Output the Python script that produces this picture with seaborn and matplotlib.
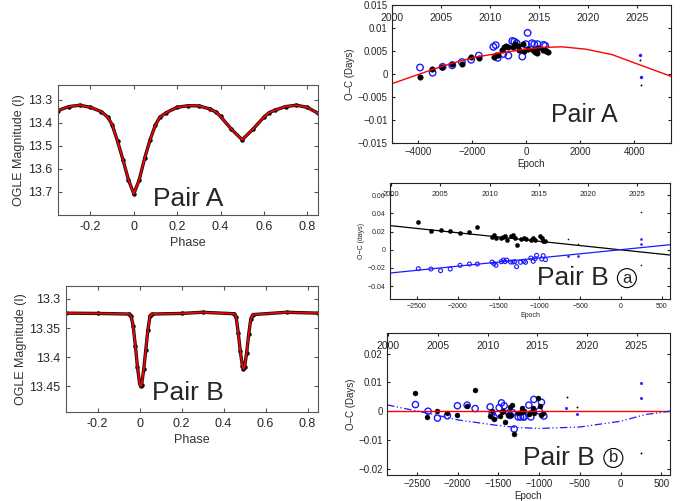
import matplotlib
matplotlib.use("Agg")
import matplotlib.pyplot as plt
import seaborn as sns
import numpy as np

sns.set_style("ticks")
plt.rcParams['font.family'] = ['Liberation Sans', 'DejaVu Sans']

# ---- light curves (phase, OGLE I mag) ----
phA = [-0.35, -0.30, -0.25, -0.20, -0.15, -0.12, -0.10, -0.075, -0.05, -0.025, 0.0,
       0.025, 0.05, 0.075, 0.10, 0.12, 0.15, 0.20, 0.25, 0.30, 0.35, 0.38, 0.40,
       0.45, 0.50, 0.55, 0.60, 0.625, 0.65, 0.70, 0.75, 0.80, 0.85]
magA = [13.346, 13.329, 13.323, 13.332, 13.351, 13.375, 13.408, 13.48, 13.56, 13.647, 13.708,
        13.647, 13.553, 13.473, 13.408, 13.375, 13.355, 13.332, 13.325, 13.326, 13.339, 13.353, 13.372,
        13.427, 13.473, 13.427, 13.375, 13.355, 13.345, 13.329, 13.323, 13.332, 13.358]

phB = [-0.35, -0.2, -0.05, -0.04, -0.03, -0.02, -0.01, 0.0, 0.005, 0.01, 0.02, 0.03, 0.04,
       0.05, 0.06, 0.2, 0.3, 0.45, 0.46, 0.47, 0.48, 0.49, 0.495, 0.5, 0.51, 0.52, 0.53,
       0.54, 0.7, 0.85]
magB = [13.3245, 13.325, 13.326, 13.33, 13.347, 13.38, 13.416, 13.444, 13.45, 13.447, 13.421, 13.387, 13.353,
        13.329, 13.326, 13.325, 13.323, 13.3255, 13.331, 13.358, 13.39, 13.415, 13.42, 13.417, 13.393, 13.361, 13.334,
        13.327, 13.323, 13.3245]

# ---- Pair A O-C ----
a_blk_ep = [-3926, -3460, -3092, -2724, -2368, -2025, -1742, -1190, -1104, -1043, -871, -798, -736,
            -675, -491, -405, -307, -270, -123, -61, 61, 245, 331, 393, 454, 613, 736, 822]
a_blk_oc = [-0.00063, 0.00106, 0.00148, 0.00218, 0.00225, 0.00366, 0.00345, 0.00366, 0.00415, 0.00415,
            0.00528, 0.00577, 0.006, 0.00577, 0.00577, 0.0066, 0.0061, 0.00528, 0.00648, 0.00507, 0.00542,
            0.00521, 0.00486, 0.00458, 0.0057, 0.00528, 0.00507, 0.00486]
a_blu_ep = [-3914, -3448, -3080, -2724, -2368, -2025, -1742, -1202, -1117, -1043, -834, -650, -503,
            -429, -344, -135, 0, 61, 221, 307, 429, 650, 712]
a_blu_oc = [0.00141, 0.00028, 0.00155, 0.0019, 0.0026, 0.0031, 0.004, 0.0059, 0.00627, 0.00352, 0.00436,
            0.004, 0.00718, 0.00704, 0.00669, 0.0038, 0.00648, 0.00894, 0.00669, 0.00648, 0.00648, 0.00634,
            0.00613]
a_fit_ep = [-4950, -3926, -3436, -2700, -1840, -1104, -245, 613, 1350, 2209, 3190, 4245, 5360]
a_fit_oc = [-0.0021, 0.0, 0.001, 0.0024, 0.0037, 0.0044, 0.0052, 0.0058, 0.0059, 0.0054, 0.0042, 0.0019, -0.0005]
a_tiny_blk = ([4233, 4257], [0.003, -0.0023])
a_tiny_blu = ([4233, 4257], [0.0042, -0.0007])

# ---- Pair B (a) O-C ----
b_blk_ep = [-2484, -2329, -2211, -2093, -1972, -1858, -1760, -1581, -1557, -1533, -1468, -1443, -1423,
            -1402, -1354, -1325, -1301, -1280, -1232, -1191, -1171, -1106, -1077, -1053, -996, -972, -955, -927]
b_blk_oc = [0.0305, 0.0206, 0.0217, 0.0202, 0.018, 0.0198, 0.025, 0.0143, 0.0161, 0.0132, 0.0132, 0.0139,
            0.0147, 0.0103, 0.0147, 0.0158, 0.0132, 0.0051, 0.0121, 0.0132, 0.0117, 0.011, 0.0128, 0.011,
            0.0154, 0.0128, 0.0095, 0.0092]
b_blu_ep = [-2484, -2329, -2211, -2093, -1972, -1858, -1760, -1581, -1557, -1533, -1468, -1443, -1423,
            -1402, -1354, -1325, -1301, -1280, -1232, -1191, -1171, -1106, -1077, -1053, -1036, -972, -955, -927]
b_blu_oc = [-0.0209, -0.0213, -0.0231, -0.0213, -0.0172, -0.0158, -0.0158, -0.0136, -0.0154, -0.0172,
            -0.0132, -0.0114, -0.0132, -0.0114, -0.0136, -0.0136, -0.0132, -0.0187, -0.0139, -0.0128,
            -0.0139, -0.0092, -0.0128, -0.0099, -0.0062, -0.0103, -0.0066, -0.011]
b_tiny_blk = ([-654, -533, 240, 240], [0.0117, 0.0066, 0.042, -0.017])
b_tiny_blu = ([-654, -533, 240, 240], [-0.0066, -0.0066, 0.0117, 0.0066])
b_line_ep = [-2830, 600]
b_line_blk = [0.0265, -0.0059]
b_line_blu = [-0.0257, 0.0055]

# ---- Pair B (b) residuals ----
c_blk_ep = [-2525, -2369, -2246, -2128, -2005, -1886, -1788, -1604, -1575, -1551, -1481, -1453, -1440,
            -1420, -1379, -1358, -1338, -1326, -1305, -1256, -1227, -1207, -1187, -1125, -1097, -1080,
            -1060, -1011, -990, -970, -949]
c_blk_oc = [0.0064, -0.002, 0.0, -0.0007, -0.0014, 0.0017, 0.0073, -0.0017, 0.0001, -0.0027, -0.0015,
            -0.0003, 0.0001, -0.0038, -0.0014, 0.0015, -0.0012, 0.002, -0.0079, -0.0006, -0.0003, 0.001,
            0.0001, -0.0009, -0.0003, 0.001, -0.0006, 0.0047, 0.0017, -0.0013, -0.0006]
c_blu_ep = [-2516, -2361, -2246, -2124, -2001, -1882, -1784, -1600, -1575, -1551, -1489, -1461, -1428,
            -1371, -1358, -1326, -1305, -1256, -1227, -1195, -1182, -1125, -1100, -1064, -998, -970, -941]
c_blu_oc = [0.0023, 0.0, -0.0024, -0.0016, 0.0019, 0.0021, 0.0009, 0.0015, -0.0008, -0.0021, 0.0012,
            0.0029, 0.0019, -0.0006, -0.0015, -0.0005, -0.0062, -0.002, -0.002, -0.002, -0.002, 0.0021,
            -0.002, 0.0041, 0.0001, 0.0031, -0.0017]
c_tiny_blk = ([-663, -540, 245], [0.0051, 0.0015, -0.0144])
c_tiny_blu = ([-671, -540, 245, 245], [0.001, -0.001, 0.0099, 0.0047])
c_ltt_ep = [-2865, -2400, -2000, -1500, -1250, -1000, -500, 0, 300, 605]
c_ltt_oc = [0.0022, -0.0005, -0.003, -0.005, -0.0057, -0.006, -0.0055, -0.0035, -0.0012, 0.0]

years = [2000, 2005, 2010, 2015, 2020, 2025]

BLUE = '#1a1aff'
fig = plt.figure(figsize=(6.87, 5.01), dpi=100)


def frame(ax, color='#333333'):
    for s in ax.spines.values():
        s.set_visible(True)
        s.set_color(color)
        s.set_linewidth(0.8)


def light_panel(rect, ph, mag, ylim, yticks, ytl, label, lab_xy):
    ax = fig.add_axes(rect)
    sns.lineplot(x=ph, y=mag, ax=ax, color='#111111', lw=2.4, sort=False)
    sns.scatterplot(x=ph, y=mag, ax=ax, color='black', s=8, edgecolor='black', linewidth=0.3)
    sns.lineplot(x=ph, y=mag, ax=ax, color='red', lw=1.2, sort=False)
    ax.set_xlim(-0.35, 0.85)
    ax.set_ylim(*ylim)
    ax.set_xticks([-0.2, 0, 0.2, 0.4, 0.6, 0.8])
    ax.set_xticklabels(['-0.2', '0', '0.2', '0.4', '0.6', '0.8'])
    ax.set_yticks(yticks)
    ax.set_yticklabels(ytl)
    ax.tick_params(direction='in', top=True, right=True, labelsize=9, length=3,
                   color='#555555', pad=4)
    ax.set_xlabel('Phase', fontsize=9, color='#333333', labelpad=3)
    ax.set_ylabel('OGLE Magnitude (I)', fontsize=9, color='#333333', labelpad=2)
    frame(ax, '#555555')
    ax.text(lab_xy[0], lab_xy[1], label, transform=ax.transAxes, fontsize=19,
            ha='center', va='center')
    return ax


light_panel([0.0844, 0.5709, 0.3785, 0.2595], phA, magA, (13.8, 13.235),
            [13.3, 13.4, 13.5, 13.6, 13.7], ['13.3', '13.4', '13.5', '13.6', '13.7'],
            'Pair A', (0.5, 0.12))
light_panel([0.0961, 0.1776, 0.3668, 0.2515], phB, magB, (13.494, 13.278),
            [13.3, 13.35, 13.4, 13.45], ['13.3', '13.35', '13.4', '13.45'],
            'Pair B', (0.484, 0.15))


def oc_panel(rect, xlim, ylim, yticks, ytl, xticks, y0, ep0, per_yr, fs, ylab):
    ax = fig.add_axes(rect)
    ax.set_xlim(*xlim)
    ax.set_ylim(*ylim)
    ax.set_xticks(xticks)
    ax.set_yticks(yticks)
    ax.set_yticklabels(ytl)
    ax.tick_params(direction='in', top=False, right=True, labelsize=fs, length=2.5,
                   color='#222222', pad=3)
    ax.set_xlabel('Epoch', fontsize=fs, labelpad=1)
    ax.set_ylabel(ylab, fontsize=fs, labelpad=2)
    frame(ax, '#222222')
    sec = ax.secondary_xaxis('top', functions=(lambda e: y0 + (e - ep0) / per_yr,
                                               lambda y: ep0 + (y - y0) * per_yr))
    sec.set_xticks(years)
    sec.set_xticklabels([str(y) for y in years])
    sec.tick_params(direction='in', length=2.5, labelsize=fs + 0.5, pad=-5.7 - fs,
                    color='#222222')
    sec.spines['top'].set_visible(False)
    return ax


# Pair A O-C
ax = oc_panel([0.5706, 0.7146, 0.4061, 0.2754], (-4950, 5360), (-0.015, 0.015),
              [-0.015, -0.01, -0.005, 0, 0.005, 0.01, 0.015],
              ['\u22120.015', '\u22120.01', '\u22120.005', '0', '0.005', '0.01', '0.015'],
              [-4000, -2000, 0, 2000, 4000], 2005, -3129, 362, 7, 'O\u2013C (Days)')
ax.set_xticklabels(['\u22124000', '\u22122000', '0', '2000', '4000'])
sns.lineplot(x=a_fit_ep, y=a_fit_oc, ax=ax, color='red', lw=1.0)
sns.scatterplot(x=a_blu_ep, y=a_blu_oc, ax=ax, marker='o', s=22, facecolor='none',
                edgecolor=BLUE, linewidth=1.0)
sns.scatterplot(x=a_blk_ep, y=a_blk_oc, ax=ax, marker='o', s=16, color='black',
                edgecolor='black', linewidth=0.3)
sns.scatterplot(x=a_tiny_blu[0], y=a_tiny_blu[1], ax=ax, s=5, color=BLUE, edgecolor=BLUE)
sns.scatterplot(x=a_tiny_blk[0], y=a_tiny_blk[1], ax=ax, s=1.5, color='black', edgecolor='black')
ax.text(0.69, 0.2, 'Pair A', transform=ax.transAxes, fontsize=18, ha='center', va='center')

# Pair B (a)
ax = oc_panel([0.5677, 0.4032, 0.4076, 0.2315], (-2830, 598), (-0.0543, 0.0734),
              [-0.04, -0.02, 0, 0.02, 0.04, 0.06],
              ['\u22120.04', '\u22120.02', '0', '0.02', '0.04', '0.06'],
              [-2500, -2000, -1500, -1000, -500, 0, 500], 2005, -2215, 120.7, 5, 'O\u2212C (days)')
ax.set_xticklabels(['\u22122500', '\u22122000', '\u22121500', '\u22121000', '\u2212500', '0', '500'])
sns.lineplot(x=b_line_ep, y=b_line_blk, ax=ax, color='black', lw=0.9)
sns.lineplot(x=b_line_ep, y=b_line_blu, ax=ax, color=BLUE, lw=0.9)
sns.scatterplot(x=b_blu_ep, y=b_blu_oc, ax=ax, marker='o', s=8, facecolor='none',
                edgecolor=BLUE, linewidth=0.8)
sns.scatterplot(x=b_blk_ep, y=b_blk_oc, ax=ax, marker='o', s=9, color='black',
                edgecolor='black', linewidth=0.3)
sns.scatterplot(x=b_tiny_blu[0], y=b_tiny_blu[1], ax=ax, s=3, color=BLUE, edgecolor=BLUE)
sns.scatterplot(x=b_tiny_blk[0], y=b_tiny_blk[1], ax=ax, s=1, color='black', edgecolor='black')
ax.text(0.525, 0.18, 'Pair B', transform=ax.transAxes, fontsize=19, ha='left', va='center')
ax.text(0.846, 0.18, 'a', transform=ax.transAxes, fontsize=12, ha='center', va='center',
        bbox=dict(boxstyle='circle,pad=0.12', fc='none', ec='black', lw=0.8))

# Pair B (b)
ax = oc_panel([0.5633, 0.0519, 0.4119, 0.2834], (-2865, 606), (-0.0222, 0.0272),
              [-0.02, -0.01, 0, 0.01, 0.02],
              ['\u22120.02', '\u22120.01', '0', '0.01', '0.02'],
              [-2500, -2000, -1500, -1000, -500, 0, 500], 2005, -2238, 121.7, 7, 'O\u2013C (Days)')
ax.set_xticklabels(['\u22122500', '\u22122000', '\u22121500', '\u22121000', '\u2212500', '0', '500'])
ax.axhline(0, color='red', lw=1.0)
sns.lineplot(x=c_ltt_ep, y=c_ltt_oc, ax=ax, color=BLUE, lw=0.9, linestyle=(0, (6, 2, 1, 2, 1, 2)))
sns.scatterplot(x=c_blu_ep, y=c_blu_oc, ax=ax, marker='o', s=20, facecolor='none',
                edgecolor=BLUE, linewidth=1.0)
sns.scatterplot(x=c_blk_ep, y=c_blk_oc, ax=ax, marker='o', s=13, color='black',
                edgecolor='black', linewidth=0.3)
sns.scatterplot(x=c_tiny_blu[0], y=c_tiny_blu[1], ax=ax, s=4, color=BLUE, edgecolor=BLUE)
sns.scatterplot(x=c_tiny_blk[0], y=c_tiny_blk[1], ax=ax, s=1.5, color='black', edgecolor='black')
ax.text(0.48, 0.12, 'Pair B', transform=ax.transAxes, fontsize=19, ha='left', va='center')
ax.text(0.80, 0.12, 'b', transform=ax.transAxes, fontsize=12, ha='center', va='center',
        bbox=dict(boxstyle='circle,pad=0.12', fc='none', ec='black', lw=0.8))

fig.savefig('out.png', dpi=100)
